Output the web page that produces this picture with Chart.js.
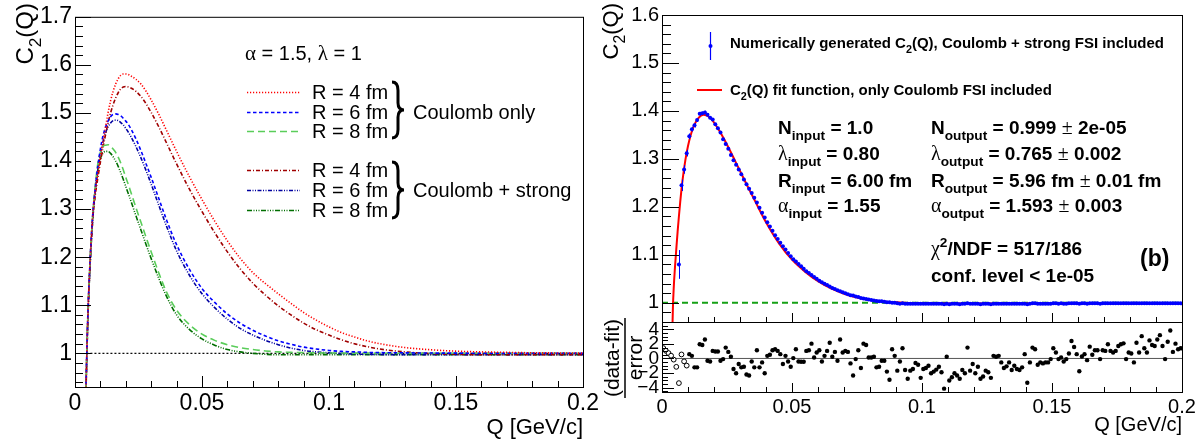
<!DOCTYPE html>
<html><head><meta charset="utf-8">
<script src="https://cdn.jsdelivr.net/npm/chart.js@4.4.0/dist/chart.umd.min.js"></script>
<style>
html,body{margin:0;padding:0;background:#fff;width:1203px;height:439px;overflow:hidden}
canvas{position:absolute;left:0;top:0}
</style></head><body>
<canvas id="cL" width="1203" height="439"></canvas>
<canvas id="cR" width="1203" height="439"></canvas>
<canvas id="cD" width="1203" height="439"></canvas>
<script>
const SANS = '"Liberation Sans", Arial, Helvetica, sans-serif';
const SERIF = '"Liberation Serif", "Times New Roman", serif';

// ---------------- LEFT PANEL DATA ----------------
const leftQ = [0.004,0.005,0.006,0.007,0.008,0.009,0.010,0.011,0.012,0.013,
  0.014,0.015,0.016,0.017,0.018,0.019,0.020,0.021,0.022,
  0.024,0.026,0.028,0.030,0.033,0.036,
  0.040,0.045,0.050,0.055,0.060,0.065,0.070,0.075,0.080,0.085,0.090,0.095,0.100,0.105,0.110,0.115,0.120,
  0.130,0.140,0.150,0.160,0.170,0.180,0.190,0.200];
const coulR4 = [0.86,1.07,1.20,1.29,1.34,1.375,1.41,1.44,1.47,1.50,
  1.525,1.545,1.56,1.571,1.578,1.581,1.581,1.580,1.577,
  1.570,1.560,1.545,1.527,1.497,1.464,
  1.42,1.368,1.32,1.275,1.234,1.198,1.168,1.145,1.124,1.104,1.085,1.069,1.055,1.043,1.034,1.026,1.02,
  1.012,1.0075,1.0045,1.003,1.002,1.0012,1.0008,1.0005];
const coulR6 = [0.86,1.07,1.20,1.29,1.345,1.39,1.425,1.452,1.47,1.483,
  1.492,1.497,1.498,1.497,1.494,1.489,1.483,1.476,1.467,
  1.446,1.421,1.394,1.366,1.322,1.278,
  1.226,1.175,1.135,1.106,1.082,1.063,1.048,1.036,1.026,1.019,1.013,1.009,1.006,1.004,1.003,1.002,1.0015,
  1.001,1.0006,1.0004,1.0003,1.0002,1.0002,1.0001,1.0001];
const coulR8 = [0.86,1.07,1.20,1.29,1.35,1.395,1.418,1.43,1.433,1.434,
  1.431,1.425,1.418,1.408,1.396,1.382,1.366,1.351,1.335,
  1.303,1.272,1.241,1.211,1.167,1.128,
  1.09,1.06,1.04,1.027,1.018,1.012,1.008,1.005,1.003,1.002,1.0015,1.001,1.0008,1.0006,1.0005,1.0004,1.0003,
  1.0002,1.0002,1.0001,1.0001,1.0001,1.0001,1.0001,1.0001];
const strongR4 = [0.85,1.06,1.19,1.28,1.33,1.365,1.398,1.427,1.454,1.479,
  1.50,1.517,1.531,1.542,1.55,1.554,1.555,1.554,1.552,
  1.545,1.534,1.519,1.501,1.471,1.438,
  1.394,1.342,1.295,1.251,1.211,1.176,1.146,1.121,1.099,1.08,1.063,1.049,1.038,1.028,1.02,1.014,1.009,
  1.003,0.9995,0.998,0.997,0.997,0.997,0.997,0.997];
const strongR6 = [0.85,1.06,1.19,1.28,1.338,1.382,1.415,1.44,1.458,1.471,
  1.479,1.484,1.485,1.484,1.48,1.475,1.468,1.46,1.451,
  1.43,1.406,1.38,1.352,1.308,1.265,
  1.213,1.163,1.124,1.095,1.071,1.052,1.038,1.027,1.018,1.011,1.006,1.003,1.001,0.9995,0.9985,0.998,0.9975,
  0.997,0.997,0.997,0.997,0.997,0.997,0.997,0.997];
const strongR8 = [0.85,1.06,1.19,1.28,1.34,1.382,1.405,1.416,1.42,1.42,
  1.416,1.409,1.40,1.389,1.376,1.362,1.347,1.332,1.317,
  1.286,1.256,1.226,1.197,1.156,1.119,
  1.08,1.05,1.03,1.017,1.008,1.003,1.0,0.998,0.997,0.997,0.997,0.997,0.997,0.997,0.997,0.997,0.997,
  0.997,0.997,0.997,0.997,0.997,0.997,0.997,0.997];
const legendRadii = ['R = 4 fm','R = 6 fm','R = 8 fm'];

// ---------------- TICKS ----------------
const xTickVals = [0,0.05,0.1,0.15,0.2];
const xTickLabels = ['0','0.05','0.1','0.15','0.2'];
const leftYTickVals = [1,1.1,1.2,1.3,1.4,1.5,1.6,1.7];
const leftYTickLabels = ['1','1.1','1.2','1.3','1.4','1.5','1.6','1.7'];
const rightYTickVals = [1,1.1,1.2,1.3,1.4,1.5,1.6];
const rightYTickLabels = ['1','1.1','1.2','1.3','1.4','1.5','1.6'];
const residTickVals = [-4,-2,0,2,4];
const residTickLabels = ['\u22124','\u22122','0','2','4'];

// ---------------- RIGHT PANEL DATA ----------------
const binQ = [
 0.0005,0.0015,0.0025,0.0035,0.0045,0.0055,0.0065,0.0075,0.0085,0.0095,
 0.0105,0.0115,0.0125,0.0135,0.0145,0.0155,0.0165,0.0175,0.0185,0.0195,
 0.0205,0.0215,0.0225,0.0235,0.0245,0.0255,0.0265,0.0275,0.0285,0.0295,
 0.0305,0.0315,0.0325,0.0335,0.0345,0.0355,0.0365,0.0375,0.0385,0.0395,
 0.0405,0.0415,0.0425,0.0435,0.0445,0.0455,0.0465,0.0475,0.0485,0.0495,
 0.0505,0.0515,0.0525,0.0535,0.0545,0.0555,0.0565,0.0575,0.0585,0.0595,
 0.0605,0.0615,0.0625,0.0635,0.0645,0.0655,0.0665,0.0675,0.0685,0.0695,
 0.0705,0.0715,0.0725,0.0735,0.0745,0.0755,0.0765,0.0775,0.0785,0.0795,
 0.0805,0.0815,0.0825,0.0835,0.0845,0.0855,0.0865,0.0875,0.0885,0.0895,
 0.0905,0.0915,0.0925,0.0935,0.0945,0.0955,0.0965,0.0975,0.0985,0.0995,
 0.1005,0.1015,0.1025,0.1035,0.1045,0.1055,0.1065,0.1075,0.1085,0.1095,
 0.1105,0.1115,0.1125,0.1135,0.1145,0.1155,0.1165,0.1175,0.1185,0.1195,
 0.1205,0.1215,0.1225,0.1235,0.1245,0.1255,0.1265,0.1275,0.1285,0.1295,
 0.1305,0.1315,0.1325,0.1335,0.1345,0.1355,0.1365,0.1375,0.1385,0.1395,
 0.1405,0.1415,0.1425,0.1435,0.1445,0.1455,0.1465,0.1475,0.1485,0.1495,
 0.1505,0.1515,0.1525,0.1535,0.1545,0.1555,0.1565,0.1575,0.1585,0.1595,
 0.1605,0.1615,0.1625,0.1635,0.1645,0.1655,0.1665,0.1675,0.1685,0.1695,
 0.1705,0.1715,0.1725,0.1735,0.1745,0.1755,0.1765,0.1775,0.1785,0.1795,
 0.1805,0.1815,0.1825,0.1835,0.1845,0.1855,0.1865,0.1875,0.1885,0.1895,
 0.1905,0.1915,0.1925,0.1935,0.1945,0.1955,0.1965,0.1975,0.1985,0.1995];
const dataC = [
 0.30,0.52,0.66,0.77,0.84,0.90,1.08,1.245,1.278,1.312,
 1.347,1.362,1.370,1.381,1.394,1.395,1.397,1.392,1.386,1.382,
 1.372,1.364,1.355,1.341,1.331,1.321,1.308,1.297,1.288,1.278,
 1.268,1.257,1.247,1.238,1.229,1.219,1.209,1.198,1.188,1.178,
 1.168,1.159,1.150,1.141,1.133,1.125,1.118,1.111,1.104,1.097,
 1.091,1.086,1.081,1.076,1.071,1.066,1.062,1.058,1.054,1.050,
 1.046,1.043,1.040,1.037,1.034,1.031,1.029,1.026,1.024,1.022,
 1.020,1.018,1.016,1.015,1.013,1.012,1.010,1.009,1.008,1.007,
 1.006,1.005,1.004,1.003,1.003,1.002,1.001,1.001,1.000,1.000,
 0.999,0.998,0.999,0.998,0.998,0.998,0.998,0.998,0.998,0.998,
 0.998,0.998,0.998,0.998,0.998,0.998,0.998,0.998,0.997,0.998,
 0.997,0.998,0.998,0.998,0.997,0.998,0.998,0.999,0.998,0.998,
 0.998,0.998,0.997,0.998,0.998,0.998,0.997,0.998,0.998,0.998,
 0.998,0.998,0.998,0.998,0.998,0.998,0.998,0.998,0.998,0.998,
 0.997,0.998,0.999,0.999,0.998,0.998,0.998,0.998,0.998,0.998,
 0.999,0.999,0.998,0.999,0.998,0.998,0.999,0.999,0.999,0.999,
 0.998,0.999,0.999,0.998,0.999,0.999,0.999,0.999,0.998,0.999,
 0.999,0.999,0.999,0.999,0.999,0.999,0.999,0.999,0.999,0.999,
 0.999,0.999,0.999,0.999,0.999,0.999,0.999,0.999,0.999,0.999,
 0.999,0.999,0.999,0.999,0.999,0.999,0.999,0.999,0.999,0.999];
const dataErr = [0.5,0.3,0.2,0.1,0.06,0.04,0.03,0.012,0.009,0.007,
 0.006,0.005,0.0045,0.004,0.004,0.0035,0.0035,0.003,0.003,0.003];
const fitQ = [0.0038,0.0042,0.0045,0.005,0.0055,0.006,0.0065,0.007,0.0075,0.008,
 0.009,0.010,0.011,0.012,0.013,0.014,0.015,0.016,0.017,0.018,0.019,0.020,
 0.022,0.024,0.026,0.028,0.030,0.033,0.036,
 0.040,0.045,0.050,0.055,0.060,0.065,0.070,0.075,0.080,0.085,0.090,0.095,0.100,
 0.110,0.120,0.140,0.160,0.180,0.200];
const fitC = [0.90,0.99,1.03,1.075,1.112,1.148,1.18,1.21,1.237,1.26,
 1.298,1.327,1.349,1.365,1.377,1.385,1.39,1.392,1.391,1.388,1.383,1.376,
 1.359,1.34,1.319,1.297,1.275,1.242,1.21,
 1.168,1.124,1.09,1.065,1.045,1.03,1.019,1.011,1.006,1.003,1.001,0.9995,0.999,
 0.9985,0.9985,0.9985,0.9985,0.9985,0.9985];
const fitStartBin = 10;
const resid = [
 1.42,1.05,0.74,0.38,-0.16,-1.15,-3.38,0.55,-0.4,-0.98,
 0.59,0.36,-1.22,-1.22,1.94,1.85,2.61,-0.32,-0.41,1.04,
 0.95,0.95,-0.32,-0.09,1.49,0.9,0.23,-1.44,-2.03,-0.77,
 -1.22,-1.13,-2.21,-2.34,-0.41,-1.22,1.13,-1.22,-0.54,-2.03,
 0.36,0.5,1.13,1.26,1.04,0.59,-0.77,0.36,-0.41,-1.13,
 0.05,1.26,-0.41,-0.45,-0.45,1.04,1.13,2.03,0.14,0.81,
 1.13,-0.41,0.36,1.04,2.16,0.23,0.9,-0.32,2.61,0.81,
 1.04,0.9,-0.68,-2.34,-0.09,1.13,-1.31,2.03,1.85,0.14,
 0.14,0.23,-1.22,-1.13,-0.32,-0.32,-1.8,-2.93,1.26,0.36,
 -1.67,-0.41,1.4,-1.58,-2.79,-1.67,-1.44,-0.63,-0.86,-2.66,
 -1.44,-1.31,-0.99,-2.03,-1.8,-1.53,-1.13,-1.89,-4.14,0.23,
 -3.02,-2.57,-2.03,-2.34,-2.79,-1.58,-2.03,1.49,-1.67,-0.77,
 -2.03,-1.13,-2.79,-2.48,-1.67,-1.89,-2.66,0.36,0.23,0.36,
 -0.54,-1.31,-1.08,-0.54,-1.58,-0.99,-1.44,-1.58,-1.22,0.59,
 -3.33,-0.54,1.49,1.26,-0.86,-0.54,-0.68,-0.54,-0.54,-0.09,
 1.4,0.81,-0.09,0.14,-0.41,-0.09,0.68,2.39,1.58,0.59,
 -1.76,0.27,0.59,-0.23,1.62,0.5,1.13,1.13,-0.09,1.13,
 1.04,1.94,1.04,0.81,1.04,1.71,1.94,2.07,-0.09,0.81,
 0.68,-0.54,2.16,0.81,3.06,1.4,0.81,2.48,1.85,1.71,
 2.61,3.2,1.71,-0.09,2.3,3.83,0.9,2.03,1.26,1.4];

// ---------------- HELPERS ----------------
function pts(xs, ys){ return ys.map((y,i)=>({x:xs[i], y})); }
function fixedTicks(vals){ return s => { s.ticks = vals.map(v=>({value:v})); }; }
function rich(ctx, x, y, segs, size, opts){
  opts = opts || {};
  const bold = opts.bold ? 'bold ' : '';
  const items = segs.map(s => {
    if (typeof s === 'string') s = {t:s};
    const small = s.sub || s.sup;
    const sz = small ? size*0.72 : (s.g ? size*1.05 : size);
    const font = s.g ? `${sz}px ${SERIF}` : `${bold}${sz}px ${SANS}`;
    ctx.font = font;
    return {t:s.t, font, w:ctx.measureText(s.t).width, dy: s.sub ? size*0.32 : (s.sup ? -size*0.42 : 0)};
  });
  const total = items.reduce((a,b)=>a+b.w,0);
  let cx = opts.align==='right' ? x-total : (opts.align==='center' ? x-total/2 : x);
  ctx.textBaseline='alphabetic'; ctx.textAlign='left'; ctx.fillStyle=opts.color||'#000';
  items.forEach(it=>{ ctx.font=it.font; ctx.fillText(it.t, cx, y+it.dy); cx+=it.w; });
  return total;
}
function rotRich(ctx, bx, by, segs, size, opts){
  ctx.save(); ctx.translate(bx, by); ctx.rotate(-Math.PI/2);
  rich(ctx, 0, 0, segs, size, opts); ctx.restore();
}
function drawFrame(chart, cfg){
  const {ctx, chartArea:a, scales:{x, y}} = chart;
  ctx.save();
  ctx.strokeStyle='#000'; ctx.lineWidth=1; ctx.setLineDash([]);
  ctx.beginPath();
  const tickX = (v, len) => { const p=Math.round(x.getPixelForValue(v))+0.5; ctx.moveTo(p, a.bottom); ctx.lineTo(p, a.bottom-len); };
  const tickY = (v, len) => { const p=Math.round(y.getPixelForValue(v))+0.5; if(p<a.top||p>a.bottom) return; ctx.moveTo(a.left, p); ctx.lineTo(a.left+len, p); };
  for (let k=0;k<=20;k++){ const v=k*0.01; tickX(v, k%5===0 ? cfg.xMaj : cfg.xMin); }
  for (let k=cfg.yK0;k<=cfg.yK1;k++){ const v=k*cfg.yStep; tickY(v, (k%cfg.yEvery===0) ? cfg.yMaj : cfg.yMin); }
  ctx.stroke();
  ctx.strokeRect(a.left+0.5, a.top+0.5, a.right-a.left, a.bottom-a.top);
  ctx.restore();
}
function drawBrace(ctx, x, y0, y1, w){
  const ym=(y0+y1)/2, h=w*0.5;
  ctx.beginPath();
  ctx.moveTo(x, y0);
  ctx.quadraticCurveTo(x+h, y0, x+h, y0+h*1.4);
  ctx.lineTo(x+h, ym-h*1.2);
  ctx.quadraticCurveTo(x+h, ym, x+w, ym);
  ctx.quadraticCurveTo(x+h, ym, x+h, ym+h*1.2);
  ctx.lineTo(x+h, y1-h*1.4);
  ctx.quadraticCurveTo(x+h, y1, x, y1);
  ctx.stroke();
}

// ---------------- LEFT CHART ----------------
const styles = [
  {label:'Coulomb only R=4', d:coulR4, c:'rgb(255,0,0)', dash:[1.2,1.8]},
  {label:'Coulomb only R=6', d:coulR6, c:'rgb(0,0,255)', dash:[3.5,2.5]},
  {label:'Coulomb only R=8', d:coulR8, c:'rgb(90,205,90)', dash:[7,4]},
  {label:'Coulomb+strong R=4', d:strongR4, c:'rgb(160,0,0)', dash:[4,2,1,2]},
  {label:'Coulomb+strong R=6', d:strongR6, c:'rgb(0,0,160)', dash:[4,1.5,1,1.5,1,1.5]},
  {label:'Coulomb+strong R=8', d:strongR8, c:'rgb(0,110,0)', dash:[5,1.5,1,1.5,1,1.5,1,1.5]}
];
const leftDatasets = styles.map(s=>({
  label:s.label, data:pts(leftQ, s.d), borderColor:s.c, borderDash:s.dash, borderWidth:1.6,
  pointRadius:0, fill:false, cubicInterpolationMode:'monotone'
}));
leftDatasets.push({label:'unity', data:[{x:0.0045,y:1},{x:0.2,y:1}], borderColor:'#000', borderDash:[2,2], borderWidth:1.2, pointRadius:0});

const leftExtra = {
  id:'leftExtra',
  afterDatasetsDraw(chart){
    drawFrame(chart, {xMaj:11, xMin:6, yK0:47, yK1:85, yStep:0.02, yEvery:5, yMaj:16, yMin:8});
    const ctx=chart.ctx; ctx.save();
    rotRich(ctx, 33, 3, ['C',{t:'2',sub:1},'(Q)'], 24, {align:'right'});
    rich(ctx, 583, 434, ['Q [GeV/c]'], 22, {align:'right'});
    rich(ctx, 245, 60, [{t:'\u03b1',g:1},' = 1.5, ',{t:'\u03bb',g:1},' = 1'], 20);
    const rowsY = [92,112,131,170,190,210];
    styles.forEach((s,i)=>{
      ctx.save(); ctx.strokeStyle=s.c; ctx.lineWidth=1.6; ctx.setLineDash(s.dash);
      ctx.beginPath(); ctx.moveTo(247, rowsY[i]+0.5); ctx.lineTo(300, rowsY[i]+0.5); ctx.stroke(); ctx.restore();
      rich(ctx, 312, rowsY[i]+7, [legendRadii[i%3]], 20);
    });
    ctx.strokeStyle='#000'; ctx.lineWidth=3; ctx.setLineDash([]);
    drawBrace(ctx, 392, 82, 138, 12);
    drawBrace(ctx, 392, 162, 218, 12);
    rich(ctx, 413, 119, ['Coulomb only'], 20);
    rich(ctx, 413, 197, ['Coulomb + strong'], 20);
    ctx.restore();
  }
};

new Chart(document.getElementById('cL'), {
  type:'line',
  data:{datasets:leftDatasets},
  options:{
    responsive:false, animation:false, devicePixelRatio:1,
    layout:{padding:{left:0, top:14, right:620, bottom:0}},
    plugins:{legend:{display:false}, tooltip:{enabled:false}},
    scales:{
      x:{type:'linear', min:0, max:0.2, afterBuildTicks:fixedTicks(xTickVals),
         grid:{display:false, drawTicks:false}, border:{display:false},
         ticks:{autoSkip:false, maxRotation:0, padding:3, color:'#000', font:{family:SANS, size:23},
                callback:(v,i)=>xTickLabels[i]},
         afterFit:s=>{s.height=52;}},
      y:{type:'linear', min:0.93, max:1.7, afterBuildTicks:fixedTicks(leftYTickVals),
         grid:{display:false, drawTicks:false}, border:{display:false},
         ticks:{autoSkip:false, padding:3, color:'#000', font:{family:SANS, size:23},
                callback:(v,i)=>leftYTickLabels[i]},
         afterFit:s=>{s.width=75;}}
    }
  },
  plugins:[leftExtra]
});

// ---------------- RIGHT MAIN CHART ----------------
const rightExtra = {
  id:'rightExtra',
  afterDatasetsDraw(chart){
    const {ctx, chartArea:a, scales:{x,y}} = chart;
    ctx.save();
    ctx.beginPath(); ctx.rect(a.left, a.top, a.right-a.left, a.bottom-a.top); ctx.clip();
    ctx.strokeStyle='rgb(0,0,255)'; ctx.lineWidth=1;
    ctx.beginPath();
    dataErr.forEach((e,i)=>{
      const px=Math.round(x.getPixelForValue(binQ[i]))+0.5;
      ctx.moveTo(px, y.getPixelForValue(dataC[i]-e)); ctx.lineTo(px, y.getPixelForValue(dataC[i]+e));
    });
    ctx.stroke();
    ctx.restore();
    drawFrame(chart, {xMaj:9, xMin:5, yK0:48, yK1:80, yStep:0.02, yEvery:5, yMaj:17, yMin:9});
    ctx.save();
    rotRich(ctx, 618, 3, ['C',{t:'2',sub:1},'(Q)'], 22, {align:'right'});
    // legend
    ctx.strokeStyle='rgb(0,0,255)'; ctx.lineWidth=1.2;
    ctx.beginPath(); ctx.moveTo(710.5, 32); ctx.lineTo(710.5, 60); ctx.stroke();
    ctx.fillStyle='rgb(0,0,255)'; ctx.beginPath(); ctx.arc(710.5, 46, 2, 0, Math.PI*2); ctx.fill();
    rich(ctx, 730, 48, ['Numerically generated C',{t:'2',sub:1},'(Q), Coulomb + strong FSI included'], 15, {bold:1});
    ctx.strokeStyle='rgb(255,0,0)'; ctx.lineWidth=2;
    ctx.beginPath(); ctx.moveTo(697, 90); ctx.lineTo(722, 90); ctx.stroke();
    rich(ctx, 730, 95, ['C',{t:'2',sub:1},'(Q) fit function, only Coulomb FSI included'], 15, {bold:1});
    // stats
    const fs=19, o={bold:1};
    rich(ctx, 778, 134, ['N',{t:'input',sub:1},' = 1.0'], fs, o);
    rich(ctx, 778, 160, [{t:'\u03bb',g:1},{t:'input',sub:1},' = 0.80'], fs, o);
    rich(ctx, 778, 187, ['R',{t:'input',sub:1},' = 6.00 fm'], fs, o);
    rich(ctx, 778, 212, [{t:'\u03b1',g:1},{t:'input',sub:1},' = 1.55'], fs, o);
    rich(ctx, 931, 134, ['N',{t:'output',sub:1},' = 0.999 ',{t:'\u00b1',g:1},' 2e-05'], fs, o);
    rich(ctx, 931, 160, [{t:'\u03bb',g:1},{t:'output',sub:1},' = 0.765 ',{t:'\u00b1',g:1},' 0.002'], fs, o);
    rich(ctx, 931, 187, ['R',{t:'output',sub:1},' = 5.96 fm ',{t:'\u00b1',g:1},' 0.01 fm'], fs, o);
    rich(ctx, 931, 212, [{t:'\u03b1',g:1},{t:'output',sub:1},' = 1.593 ',{t:'\u00b1',g:1},' 0.003'], fs, o);
    rich(ctx, 931, 255, [{t:'\u03c7',g:1},{t:'2',sup:1},'/NDF = 517/186'], fs, o);
    rich(ctx, 931, 282, ['conf. level < 1e-05'], fs, o);
    rich(ctx, 1140, 266, ['(b)'], 23, o);
    ctx.restore();
  }
};

new Chart(document.getElementById('cR'), {
  type:'line',
  data:{datasets:[
    {label:'data', data:pts(binQ, dataC), showLine:false, pointRadius:2, pointBorderWidth:0,
     pointBackgroundColor:'rgb(0,0,255)', borderColor:'rgb(0,0,255)', backgroundColor:'rgb(0,0,255)'},
    {label:'fit', data:pts(fitQ, fitC), borderColor:'rgb(255,0,0)', borderWidth:2, pointRadius:0, cubicInterpolationMode:'monotone'},
    {label:'unity', data:[{x:0,y:1},{x:0.2,y:1}], borderColor:'rgb(20,160,20)', borderDash:[6,4], borderWidth:2, pointRadius:0}
  ]},
  options:{
    responsive:false, animation:false, devicePixelRatio:1,
    layout:{padding:{left:602, top:11, right:21, bottom:117}},
    plugins:{legend:{display:false}, tooltip:{enabled:false}},
    scales:{
      x:{type:'linear', min:0, max:0.2, afterBuildTicks:fixedTicks(xTickVals),
         grid:{display:false, drawTicks:false}, border:{display:false},
         ticks:{display:false}, afterFit:s=>{s.height=0;}},
      y:{type:'linear', min:0.96, max:1.6, afterBuildTicks:fixedTicks(rightYTickVals),
         grid:{display:false, drawTicks:false}, border:{display:false},
         ticks:{autoSkip:false, padding:3, color:'#000', font:{family:SANS, size:20},
                callback:(v,i)=>rightYTickLabels[i]},
         afterFit:s=>{s.width=60;}}
    }
  },
  plugins:[rightExtra]
});

// ---------------- RESIDUAL CHART ----------------
const residExtra = {
  id:'residExtra',
  afterDatasetsDraw(chart){
    drawFrame(chart, {xMaj:9, xMin:5, yK0:-9, yK1:9, yStep:0.5, yEvery:4, yMaj:12, yMin:6});
    const ctx=chart.ctx; ctx.save();
    rotRich(ctx, 619, 358, ['(data-fit)'], 21, {align:'center'});
    rotRich(ctx, 642, 358, ['error'], 21, {align:'center'});
    ctx.strokeStyle='#000'; ctx.lineWidth=1.5;
    ctx.beginPath(); ctx.moveTo(625, 318); ctx.lineTo(625, 398); ctx.stroke();
    rich(ctx, 1182, 431, ['Q [GeV/c]'], 20, {align:'right'});
    ctx.restore();
  }
};

new Chart(document.getElementById('cD'), {
  type:'line',
  data:{datasets:[
    {label:'open', data:pts(binQ.slice(0,fitStartBin), resid.slice(0,fitStartBin)), showLine:false,
     pointRadius:2.4, pointBorderWidth:1, pointBorderColor:'#000', pointBackgroundColor:'#fff'},
    {label:'filled', data:pts(binQ.slice(fitStartBin), resid.slice(fitStartBin)), showLine:false,
     pointRadius:2.2, pointBorderWidth:0, pointBackgroundColor:'#000'},
    {label:'zero', data:[{x:0,y:0},{x:0.2,y:0}], borderColor:'#555', borderWidth:1, pointRadius:0}
  ]},
  options:{
    responsive:false, animation:false, devicePixelRatio:1,
    layout:{padding:{left:602, top:322, right:21, bottom:0}},
    plugins:{legend:{display:false}, tooltip:{enabled:false}},
    scales:{
      x:{type:'linear', min:0, max:0.2, afterBuildTicks:fixedTicks(xTickVals),
         grid:{display:false, drawTicks:false}, border:{display:false},
         ticks:{autoSkip:false, maxRotation:0, padding:3, color:'#000', font:{family:SANS, size:20},
                callback:(v,i)=>xTickLabels[i]},
         afterFit:s=>{s.height=47;}},
      y:{type:'linear', min:-4.6, max:5, afterBuildTicks:fixedTicks(residTickVals),
         grid:{display:false, drawTicks:false}, border:{display:false},
         ticks:{autoSkip:false, padding:3, color:'#000', font:{family:SANS, size:19},
                callback:(v,i)=>residTickLabels[i]},
         afterFit:s=>{s.width=60;}}
    }
  },
  plugins:[residExtra]
});
</script></body></html>
